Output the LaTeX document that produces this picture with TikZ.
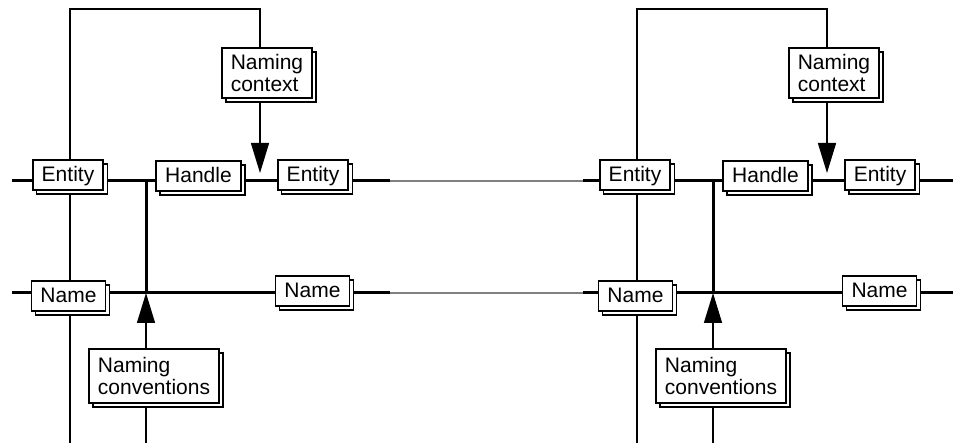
\documentclass[tikz,border=0pt]{standalone}
\usepackage{fontspec}
\setmainfont{Liberation Sans}
\usetikzlibrary{positioning, arrows.meta, shadows}
\pgfdeclarelayer{background}
\pgfsetlayers{background,main}
\tikzset{
card/.style={draw, fill=white, line width=1.7pt, inner xsep=9pt, inner ysep=5pt,
  text height=17pt, text depth=3pt, font=\fontsize{21}{21.5}\selectfont,
  copy shadow={shadow xshift=4pt, shadow yshift=-4pt, draw=black, fill=white, line width=1.5pt}}, % boxes with one copy behind
note/.style={card, align=left, text height=, text depth=, inner ysep=6.5pt}, % two-line boxes
wire/.style={line width=3pt}, % the thick link rows
thin wire/.style={line width=1.5pt},
link/.style={draw=gray, line width=2.2pt}, % the gap between the two systems
feed/.style={thin wire, -{Triangle[length=30pt, width=18pt]}},
}
\begin{document}
\begin{tikzpicture}[x=1pt, y=-1pt]
\useasboundingbox (0,0) rectangle (953,443);
\foreach \s/\dx in {a/0, b/567} {
  \begin{scope}[xshift=\dx]
    \node[card] (ent\s) at (68,175) {Entity};
    \node[card] (hdl\s) at (198.5,176) {Handle};
    \node[card] (obj\s) at (313,175) {Entity};
    \node[card] (nam\s) at (68.5,296) {Name};
    \node[card] (ref\s) at (312.5,291) {Name};
    \node[note] (ctx\s) at (267,73) {Naming\\context};
    \node[note, minimum height=54pt] (conv\s) at (154,376) {Naming\\conventions};
    \coordinate (loop\s) at (70,9);
    \coordinate (foot\s) at (70,443);
    \coordinate (tipC\s) at (260,173);
    \coordinate (hub\s) at (146,181);
    \coordinate (tipN\s) at (146,293);
    \coordinate (base\s) at (146,443);
  \end{scope}
  \begin{pgfonlayer}{background}
    \draw[thin wire] (foot\s) -- (loop\s) -| (ctx\s.north -| tipC\s);
    \draw[feed] (ctx\s.south -| tipC\s) -- (tipC\s);
    \draw[wire] (hub\s) -- (tipN\s);
    \draw[feed] (conv\s.north -| tipN\s) -- (tipN\s);
    \draw[thin wire] (conv\s.south -| tipN\s) -- (base\s);
  \end{pgfonlayer}
}
% entity row and name row
\begin{pgfonlayer}{background}
  \foreach \r/\y in {e/181, n/293} {
    \coordinate (\r0) at (12,\y);
    \coordinate (\r1) at (390,\y);
    \coordinate (\r2) at (583,\y);
    \coordinate (\r3) at (953,\y);
    \draw[wire] (\r0) -- (\r1);
    \draw[link] (\r1) -- (\r2);
    \draw[wire] (\r2) -- (\r3);
  }
\end{pgfonlayer}
\end{tikzpicture}
\end{document}
